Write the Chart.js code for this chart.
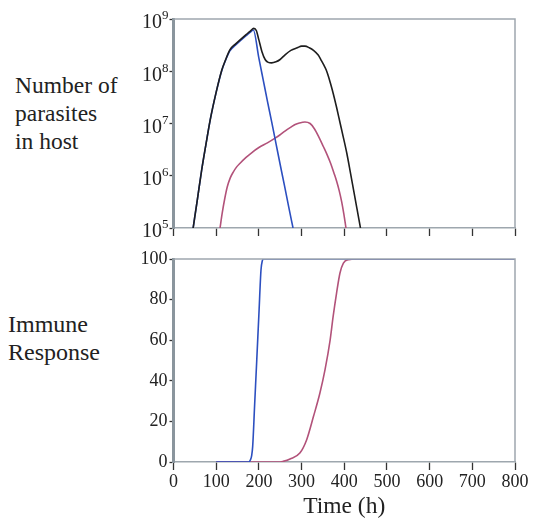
<!DOCTYPE html>
<html><head><meta charset="utf-8">
<script src="https://cdn.jsdelivr.net/npm/chart.js@4.4.1/dist/chart.umd.min.js"></script>
<style>
body{margin:0;background:#fff;width:533px;height:519px;position:relative;overflow:hidden;font-family:'Liberation Serif',serif;}
.lab{position:absolute;line-height:28px;color:#222;white-space:nowrap;font-family:'Liberation Serif',serif;}
#c1{position:absolute;left:100px;top:0;}
#c2{position:absolute;left:100px;top:245px;}
</style></head><body>
<div class="lab" style="left:15px;top:71px;font-size:23.5px">Number of<br>parasites<br>in host</div>
<div class="lab" style="left:8px;top:310px;font-size:24px">Immune<br>Response</div>
<canvas id="c1" width="433" height="245"></canvas>
<canvas id="c2" width="433" height="274"></canvas>
<script>
// ---- data (time in hours; parasite counts as log10 values) ----
const xTicks = [0,100,200,300,400,500,600,700,800];
const topYTicksExp = [5,6,7,8,9];
const immuneTicks = [0,20,40,60,80,100];

const blackT   = [46,56,66,76,86,100,113,122,132,145,156,170,180,188,194,200,207,215,222,230,240,249,262,275,290,300,308,318,328,339,346,352,358,363,368,374,382,390,398,406,414,422,430,438];
const blackLog = [5.0,5.55,6.11,6.6,7.07,7.6,8.02,8.22,8.41,8.52,8.6,8.7,8.77,8.82,8.78,8.6,8.38,8.22,8.17,8.16,8.18,8.22,8.32,8.4,8.45,8.48,8.48,8.45,8.4,8.31,8.21,8.12,8.02,7.9,7.76,7.58,7.31,7.02,6.73,6.43,6.08,5.72,5.36,5.0];

const blueT   = [46,56,66,76,86,100,113,122,132,145,156,170,180,187,200,210,220,230,240,250,260,270,280];
const blueLog = [5.0,5.55,6.11,6.6,7.07,7.6,8.01,8.21,8.39,8.5,8.58,8.68,8.75,8.79,8.25,7.84,7.43,7.03,6.62,6.21,5.81,5.4,5.0];

const pinkT   = [109,114,120,126,133,140,148,156,170,183,200,220,238,249,262,275,285,295,308,320,330,340,351,360,368,376,382,388,394,399,404];
const pinkLog = [5.0,5.28,5.56,5.79,5.96,6.07,6.17,6.24,6.35,6.44,6.54,6.63,6.72,6.78,6.86,6.93,6.98,7.01,7.03,7.0,6.9,6.75,6.56,6.4,6.24,6.05,5.9,5.72,5.5,5.27,5.0];

const blueImmT = [100,170,176,180,183,185.5,190,195,200,205,208,211,800];
const blueImm  = [0,0,0,1,3,7.7,27.8,50,72.5,94.7,99,100,100];

const pinkImmT = [100,250,257,273,296,312,328,343,355,367,374,382,390,398,410,429,800];
const pinkImm  = [0,0,0.3,1.5,4.4,11,22.5,34,45.5,60.2,71.7,83.2,93.1,98,99.7,100,100];

// ---- styling ----
const BLACK = '#1e1e1e', BLUE = '#2c4fc0', PINK = '#b2527a';
const FRAME = '#9ea7ae', AXIS = '#8a959d', TICK = '#333';
const FONT = "'Liberation Serif',serif";

const pts = (t, v, f) => t.map((x, i) => ({x, y: f ? f(v[i]) : v[i]}));
const ds = (data, color) => ({data, borderColor: color, borderWidth: 1.6, pointRadius: 0, fill: false, cubicInterpolationMode: 'monotone'});

const framePlugin = {
  id: 'frame',
  afterDatasetsDraw(chart) {
    const {ctx, chartArea: a} = chart;
    ctx.save();
    ctx.strokeStyle = FRAME; ctx.lineWidth = 1.5;
    ctx.beginPath();
    ctx.moveTo(a.left, a.top); ctx.lineTo(a.right, a.top); ctx.lineTo(a.right, a.bottom);
    ctx.stroke();
    ctx.restore();
  }
};

// draws the power-of-ten tick labels of the log axis as "10" with a raised exponent
const powerLabels = {
  id: 'powerLabels',
  afterDraw(chart) {
    const s = chart.scales.y, ctx = chart.ctx;
    ctx.save();
    ctx.fillStyle = '#222';
    ctx.textAlign = 'right';
    ctx.textBaseline = 'middle';
    s.ticks.forEach(t => {
      const y = s.getPixelForValue(t.value);
      const e = String(Math.round(Math.log10(t.value)));
      const xr = s.right - 5;
      ctx.font = "13px " + FONT;
      ctx.fillText(e, xr, y - 3);
      const ew = ctx.measureText(e).width;
      ctx.font = "20px " + FONT;
      ctx.fillText('10', xr - ew, y + 4);
    });
    ctx.restore();
  }
};

const xScale = (showLabels) => ({
  type: 'linear', min: 0, max: 800,
  afterBuildTicks(s) { s.ticks = xTicks.map(v => ({value: v})); },
  ticks: {color: showLabels ? '#222' : 'rgba(0,0,0,0)', font: {family: FONT, size: 18}, padding: 1, maxRotation: 0},
  grid: {drawOnChartArea: false, drawTicks: true, tickLength: 8, tickColor: TICK, tickWidth: 1.3},
  border: {color: FRAME, width: 1.5}
});

new Chart(document.getElementById('c1'), {
  type: 'line',
  data: {datasets: [
    ds(pts(blackT, blackLog, e => Math.pow(10, e)), BLACK),
    ds(pts(blueT, blueLog, e => Math.pow(10, e)), BLUE),
    ds(pts(pinkT, pinkLog, e => Math.pow(10, e)), PINK)
  ]},
  options: {
    responsive: false, animation: false, events: [],
    layout: {padding: {top: 19, right: 18, left: 0, bottom: 0}},
    plugins: {legend: {display: false}, tooltip: {enabled: false}},
    scales: {
      x: Object.assign(xScale(false), {afterFit(s) { s.height = 17; }}),
      y: {
        type: 'logarithmic', min: 1e5, max: 1e9,
        afterBuildTicks(s) { s.ticks = topYTicksExp.map(e => ({value: Math.pow(10, e)})); },
        ticks: {color: 'rgba(0,0,0,0)', font: {family: FONT, size: 18}, padding: 1,
          callback: v => '10^' + Math.round(Math.log10(v))},
        grid: {drawOnChartArea: false, tickLength: 4, tickColor: TICK, tickWidth: 1.3},
        border: {color: AXIS, width: 3},
        afterFit(s) { s.width = 73.5; }
      }
    }
  },
  plugins: [framePlugin, powerLabels]
});

new Chart(document.getElementById('c2'), {
  type: 'line',
  data: {datasets: [
    ds(pts(blueImmT, blueImm), BLUE),
    ds(pts(pinkImmT, pinkImm), PINK)
  ]},
  options: {
    responsive: false, animation: false, events: [],
    layout: {padding: {top: 14, right: 18, left: 0, bottom: 0}},
    plugins: {legend: {display: false}, tooltip: {enabled: false}},
    scales: {
      x: Object.assign(xScale(true), {
        title: {display: true, text: 'Time (h)', color: '#222', font: {family: FONT, size: 23.5, lineHeight: 1.0}, padding: {top: 0, bottom: 0}},
        afterFit(s) { s.height = 57; }
      }),
      y: {
        type: 'linear', min: 0, max: 100,
        afterBuildTicks(s) { s.ticks = immuneTicks.map(v => ({value: v})); },
        ticks: {color: '#222', font: {family: FONT, size: 18}, padding: 2},
        grid: {drawOnChartArea: false, tickLength: 4, tickColor: TICK, tickWidth: 1.3},
        border: {color: AXIS, width: 3},
        afterFit(s) { s.width = 73.5; }
      }
    }
  },
  plugins: [framePlugin]
});
</script>
</body></html>
